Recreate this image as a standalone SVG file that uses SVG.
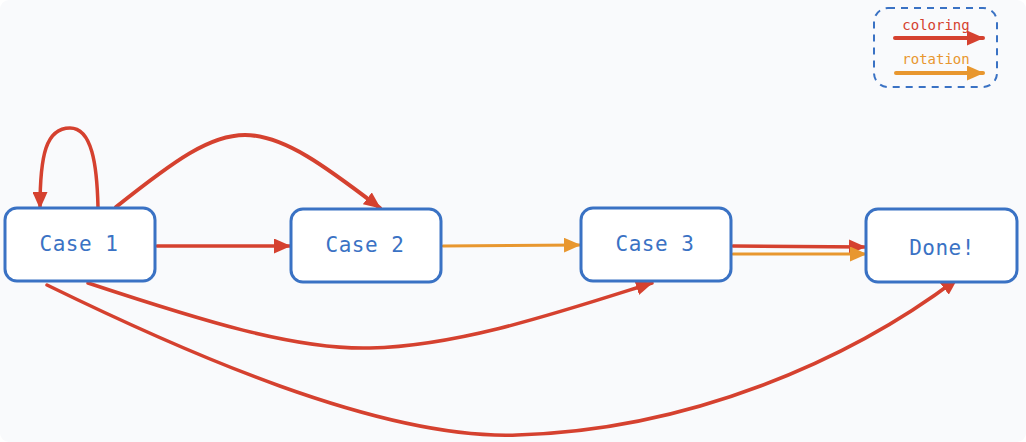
<svg xmlns="http://www.w3.org/2000/svg" width="1026" height="442" viewBox="0 0 1026 442">
<style>
.node rect{fill:#ffffff;stroke:#3a72c4;stroke-width:3}
.node text{font-family:"DejaVu Sans Mono","Liberation Mono",monospace;font-size:21px;letter-spacing:0.5px;fill:#3a72c4;text-anchor:middle;dominant-baseline:central}
.red{fill:none;stroke:#d5412f;stroke-width:3.5;stroke-linecap:round}
.orange{fill:none;stroke:#e8972f;stroke-width:3;stroke-linecap:round}
.lg{font-family:"DejaVu Sans Mono","Liberation Mono",monospace;font-size:14px;text-anchor:middle}
</style>
<defs>
<marker id="ar" markerUnits="userSpaceOnUse" markerWidth="17" markerHeight="15" refX="16" refY="7.5" orient="auto">
<path d="M0,0 L17,7.5 L0,15 Z" fill="#d5412f"/>
</marker>
<marker id="ao" markerUnits="userSpaceOnUse" markerWidth="17" markerHeight="15" refX="16" refY="7.5" orient="auto">
<path d="M0,0 L17,7.5 L0,15 Z" fill="#e8972f"/>
</marker>
</defs>
<rect x="0" y="0" width="1026" height="442" fill="#ffffff"/>
<rect x="0" y="0" width="1026" height="442" rx="9" fill="#f9fafc"/>

<g id="connectors">
<path class="red" d="M98,207 C97,165 92,128 70,128 C46,128 40,155 40,208" marker-end="url(#ar)"/>
<path class="red" d="M116,207 C175,160 210,135 245,135 C285,135 330,170 380,208" marker-end="url(#ar)" style="stroke-width:4"/>
<path class="red" d="M157,246 L290,246" marker-end="url(#ar)"/>
<path class="orange" d="M443,246 L580,245" marker-end="url(#ao)"/>
<path class="red" d="M733,246 L865,247" marker-end="url(#ar)"/>
<path class="orange" d="M733,254 L866,254" marker-end="url(#ao)"/>
<path class="red" d="M88,283 C200,320 295,350 370,348 C460,346 560,312 652,283" marker-end="url(#ar)"/>
<path class="red" d="M47,285 C180,350 380,440 517,435 C690,430 850,360 957,279" marker-end="url(#ar)"/>
</g>

<g id="case1" class="node">
<rect x="5" y="208" width="150" height="73" rx="12"/>
<text x="79" y="244">Case 1</text>
</g>
<g id="case2" class="node">
<rect x="291" y="209" width="150" height="73" rx="12"/>
<text x="365" y="245">Case 2</text>
</g>
<g id="case3" class="node">
<rect x="581" y="208" width="150" height="73" rx="12"/>
<text x="655" y="244">Case 3</text>
</g>
<g id="done" class="node">
<rect x="866" y="209" width="151" height="73" rx="12"/>
<text x="942" y="248">Done!</text>
</g>

<g id="legend">
<rect x="874" y="8" width="123" height="79" rx="14" fill="none" stroke="#3a72c4" stroke-width="2" stroke-dasharray="7 6"/>
<text class="lg" x="936" y="30" fill="#d5412f">coloring</text>
<path d="M895,38 L983,38" stroke="#d5412f" stroke-width="4" stroke-linecap="round" fill="none" marker-end="url(#ar)"/>
<text class="lg" x="936" y="64" fill="#e8972f">rotation</text>
<path d="M896,73 L983,73" stroke="#e8972f" stroke-width="4" stroke-linecap="round" fill="none" marker-end="url(#ao)"/>
</g>
</svg>
